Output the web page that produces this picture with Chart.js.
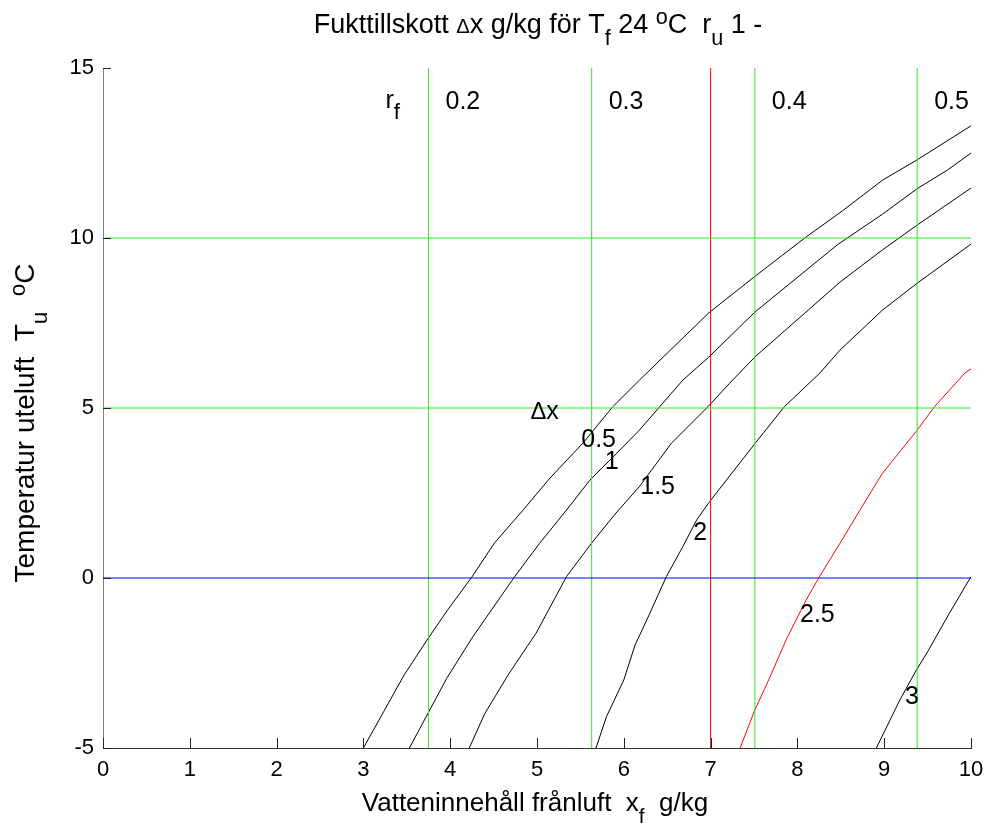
<!DOCTYPE html>
<html>
<head>
<meta charset="utf-8">
<script src="https://cdn.jsdelivr.net/npm/chart.js@4.4.1/dist/chart.umd.min.js"></script>
<style>
  body { margin: 0; background: #fff; }
  canvas { display: block; }
</style>
</head>
<body>
<canvas id="myChart" width="989" height="825"></canvas>
<script>
// axis ranges and ticks
var xTicks = [0, 1, 2, 3, 4, 5, 6, 7, 8, 9, 10];
var yTicks = [-5, 0, 5, 10, 15];

// rf lines (vertical green) and their labels
var rfX = [3.75, 5.63, 7.51, 9.38];
var rfLabels = ['0.2', '0.3', '0.4', '0.5'];
var redX = 7.0;           // red vertical line
var greenY = [5, 10];     // horizontal green lines
var blueY = 0;            // horizontal blue line

// curves, one per delta x level
var dxLabels = ['0.5', '1', '1.5', '2', '2.5', '3'];

var c05x = [3.0, 3.47, 3.75, 3.97, 4.25, 4.51, 4.84, 5.15, 5.53, 5.87, 6.18, 6.98, 7.5, 8.1, 8.52, 8.98, 9.38, 10.0];
var c05y = [-5, -2.85, -1.76, -0.94, 0.03, 1.03, 2.0, 2.94, 3.97, 5.03, 5.82, 7.8, 8.85, 10.03, 10.8, 11.7, 12.3, 13.3];

var c10x = [3.53, 3.96, 4.26, 4.74, 5.03, 5.34, 5.61, 5.88, 6.18, 6.68, 6.98, 7.51, 8.46, 8.98, 9.38, 9.73, 10.0];
var c10y = [-5, -2.95, -1.73, 0.03, 1.02, 2.0, 2.88, 3.57, 4.35, 5.82, 6.5, 7.82, 9.8, 10.7, 11.45, 12.0, 12.5];

var c15x = [4.22, 4.40, 4.68, 4.99, 5.34, 5.63, 5.91, 6.18, 6.55, 6.97, 7.22, 7.51, 8.49, 8.98, 9.38, 10.0];
var c15y = [-5, -3.98, -2.8, -1.62, 0.04, 1.03, 1.91, 2.69, 3.97, 5.04, 5.73, 6.5, 8.7, 9.65, 10.38, 11.47];

var c20x = [5.68, 5.80, 6.0, 6.13, 6.30, 6.49, 6.68, 6.84, 6.99, 7.51, 7.85, 8.26, 8.49, 8.98, 9.38, 10.0];
var c20y = [-5, -4.08, -3.0, -1.97, -1.04, 0.04, 0.92, 1.71, 2.25, 3.95, 5.04, 6.03, 6.7, 7.88, 8.67, 9.82];

var c25x = [7.34, 7.51, 7.66, 7.87, 8.10, 8.25, 8.49, 8.79, 8.98, 9.38, 9.58, 9.93, 10.0];
var c25y = [-5, -3.88, -3.05, -1.82, -0.65, 0.02, 1.02, 2.29, 3.08, 4.35, 5.04, 6.03, 6.15];

var c30x = [8.91, 9.18, 9.37, 9.5, 9.75, 10.0];
var c30y = [-5, -3.59, -2.71, -2.17, -1.04, 0.04];

var curvesX = [c05x, c10x, c15x, c20x, c25x, c30x];
var curvesY = [c05y, c10y, c15y, c20y, c25y, c30y];
var curveColors = ['#000', '#000', '#000', '#000', '#ff0000', '#000'];

// where the curve labels sit (data coords)
var dxLabelPos = [[5.71, 4.06], [5.86, 3.41], [6.39, 2.68], [6.88, 1.32], [8.23, -1.09], [9.32, -3.5]];

var FONT = "'Liberation Sans', Arial, sans-serif";
var xMin = xTicks[0], xMax = xTicks[xTicks.length - 1];
var yMin = yTicks[0], yMax = yTicks[yTicks.length - 1];

function pts(xs, ys) {
    return xs.map(function (x, i) { return { x: x, y: ys[i] }; });
}

var datasets = [];
//horizontal lines
greenY.forEach(function (v) {
    datasets.push({ data: [{ x: xMin, y: v }, { x: xMax, y: v }], borderColor: '#2ee82e' });
});
datasets.push({ data: [{ x: xMin, y: blueY }, { x: xMax, y: blueY }], borderColor: '#0000ff' });
//vertical lines
rfX.forEach(function (v) {
    datasets.push({ data: [{ x: v, y: yMin }, { x: v, y: yMax }], borderColor: '#2ee82e' });
});
datasets.push({ data: [{ x: redX, y: yMin }, { x: redX, y: yMax }], borderColor: '#ff0000' });
//curves
curvesX.forEach(function (xs, i) {
    datasets.push({ data: pts(xs, curvesY[i]), borderColor: curveColors[i] });
});
datasets.forEach(function (d) {
    d.showLine = true;
    d.pointRadius = 0;
    d.borderWidth = 1;
    d.tension = 0;
});

// text with sub/superscripts: parts = [[text, shift, scale]] shift -1 sub, 1 sup
function partSize(p, size) {
    if (p[2]) return size * p[2];
    return p[1] === 0 ? size : size * 0.8;
}
function richWidth(ctx, parts, size) {
    var w = 0;
    parts.forEach(function (p) {
        ctx.font = partSize(p, size) + 'px ' + FONT;
        w += ctx.measureText(p[0]).width;
    });
    return w;
}
function drawRich(ctx, parts, x, y, size) {
    ctx.textAlign = 'left';
    ctx.textBaseline = 'alphabetic';
    parts.forEach(function (p) {
        ctx.font = partSize(p, size) + 'px ' + FONT;
        var dy = p[1] === -1 ? size * 0.45 : (p[1] === 1 ? -size * 0.33 : 0);
        ctx.fillText(p[0], x, y + dy);
        x += ctx.measureText(p[0]).width;
    });
}

var titleParts = [['Fukttillskott ', 0], ['\u0394', 0, 0.75], ['x g/kg f\u00f6r T', 0], ['f', -1], [' 24 ', 0], ['o', 1], ['C  r', 0], ['u', -1], [' 1 -', 0]];
var xLabelParts = [['Vatteninneh\u00e5ll fr\u00e5nluft  x', 0], ['f', -1], ['  g/kg', 0]];
var yLabelParts = [['Temperatur uteluft  T', 0], ['u', -1], ['  ', 0], ['o', 1], ['C', 0]];

var decor = {
    id: 'decor',
    afterDraw: function (chart) {
        var ctx = chart.ctx;
        var xs = chart.scales.x, ys = chart.scales.y;
        var a = chart.chartArea;
        ctx.save();
        //inward ticks
        ctx.strokeStyle = '#222';
        ctx.lineWidth = 1;
        ctx.beginPath();
        xTicks.forEach(function (t) {
            var px = Math.round(xs.getPixelForValue(t)) + 0.5;
            ctx.moveTo(px, a.bottom);
            ctx.lineTo(px, a.bottom - 10);
        });
        yTicks.forEach(function (t) {
            var py = Math.round(ys.getPixelForValue(t)) + 0.5;
            ctx.moveTo(a.left, py);
            ctx.lineTo(a.left + 8, py);
        });
        ctx.stroke();

        ctx.fillStyle = '#000';
        //title
        var w = richWidth(ctx, titleParts, 27);
        drawRich(ctx, titleParts, 538 - w / 2, 33, 27);
        //x label
        w = richWidth(ctx, xLabelParts, 26);
        drawRich(ctx, xLabelParts, 535 - w / 2, 811, 26);
        //y label
        w = richWidth(ctx, yLabelParts, 28);
        ctx.save();
        ctx.translate(34, 423 + w / 2);
        ctx.rotate(-Math.PI / 2);
        drawRich(ctx, yLabelParts, 0, 0, 28);
        ctx.restore();

        //rf labels
        var ls = 25;
        ctx.font = ls + 'px ' + FONT;
        ctx.textBaseline = 'middle';
        ctx.textAlign = 'left';
        var topY = ys.getPixelForValue(14.0);
        rfLabels.forEach(function (t, i) {
            ctx.fillText(t, xs.getPixelForValue(rfX[i]) + 17, topY);
        });
        drawRich(ctx, [['r', 0], ['f', -1, 0.9]], xs.getPixelForValue(rfX[0]) - 43, topY + 6, ls);

        //dx labels
        ctx.font = ls + 'px ' + FONT;
        ctx.textAlign = 'center';
        ctx.textBaseline = 'middle';
        dxLabels.forEach(function (t, i) {
            ctx.fillText(t, xs.getPixelForValue(dxLabelPos[i][0]), ys.getPixelForValue(dxLabelPos[i][1]));
        });
        drawRich(ctx, [['\u0394', 0, 0.95], ['x', 0]], xs.getPixelForValue(5.12) - 17, ys.getPixelForValue(4.94) + 9, ls);
        ctx.restore();
    }
};

var myChart = new Chart(document.getElementById('myChart'), {
    type: 'scatter',
    data: { datasets: datasets },
    plugins: [decor],
    options: {
        responsive: false,
        animation: false,
        devicePixelRatio: 1,
        layout: { padding: { left: 0, top: 68, right: 18, bottom: 0 } },
        plugins: { legend: { display: false }, tooltip: { enabled: false } },
        scales: {
            x: {
                type: 'linear', min: xMin, max: xMax,
                afterFit: function (s) { s.height = 77; s.paddingRight = 0; s.paddingLeft = 0; },
                afterBuildTicks: function (s) { s.ticks = xTicks.map(function (v) { return { value: v }; }); },
                grid: { display: false, drawTicks: false },
                border: { display: true, color: '#333', width: 1 },
                ticks: { color: '#000', padding: 9, font: { family: FONT, size: 22 } }
            },
            y: {
                type: 'linear', min: yMin, max: yMax,
                afterFit: function (s) { s.width = 103; s.paddingTop = 0; s.paddingBottom = 0; },
                afterBuildTicks: function (s) { s.ticks = yTicks.map(function (v) { return { value: v }; }); },
                grid: { display: false, drawTicks: false },
                border: { display: true, color: '#808080', width: 1 },
                ticks: { color: '#000', padding: 9, font: { family: FONT, size: 22 } }
            }
        }
    }
});
</script>
</body>
</html>
